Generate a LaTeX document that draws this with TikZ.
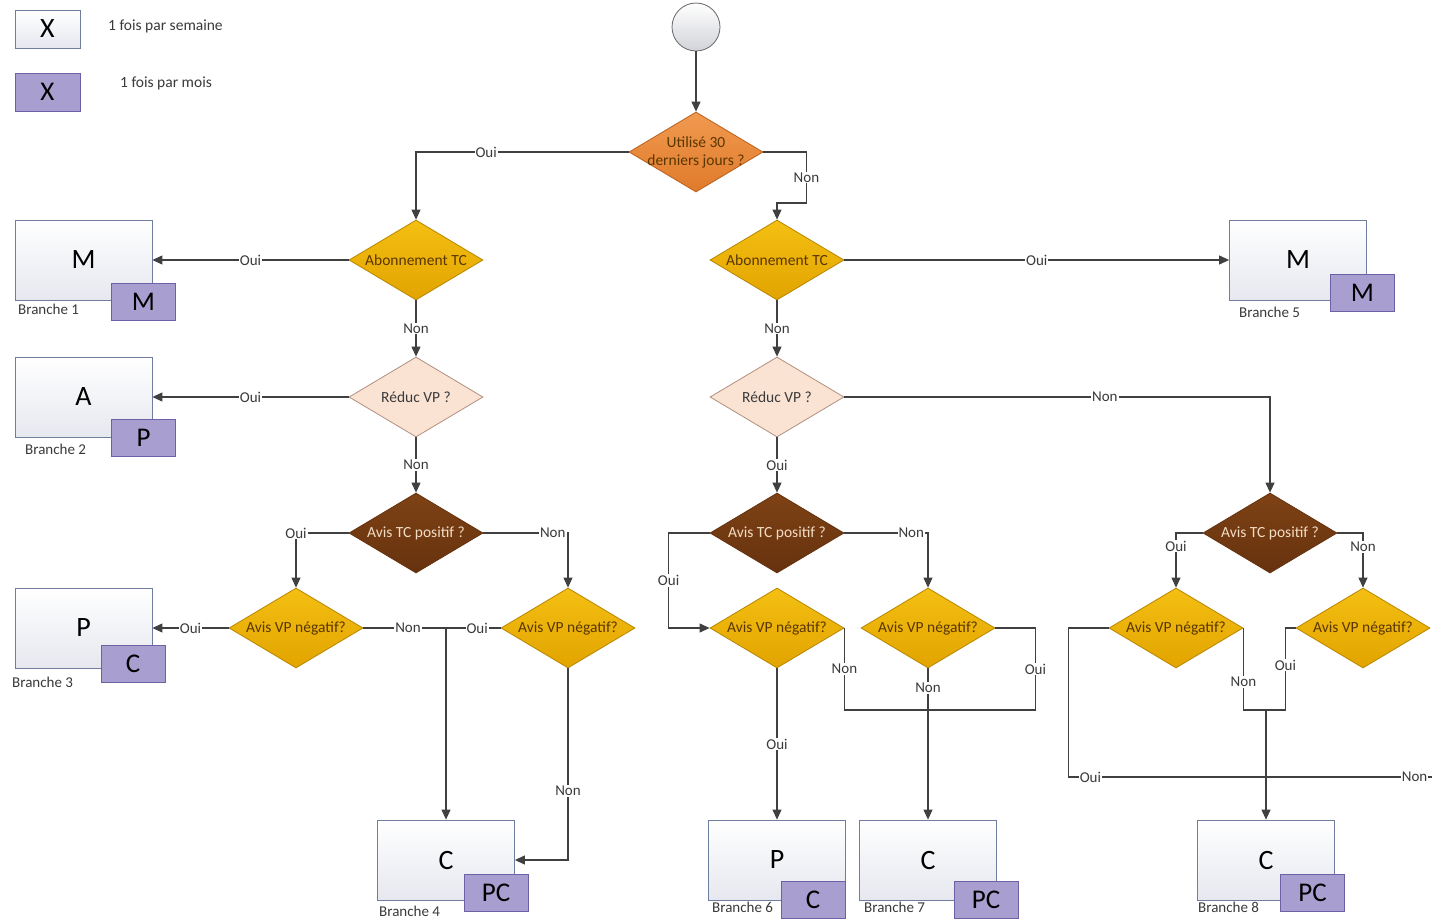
\documentclass[tikz,border=0pt]{standalone}
\usepackage{fontspec}
\setmainfont{Carlito}
\usetikzlibrary{shapes.geometric,arrows.meta}
\definecolor{lc}{HTML}{404040}
\definecolor{goldt}{HTML}{F4BF12}
\definecolor{goldb}{HTML}{E2A400}
\definecolor{goldd}{HTML}{B88600}
\definecolor{goldtx}{HTML}{5A3600}
\definecolor{orat}{HTML}{F09A50}
\definecolor{orab}{HTML}{E07A2A}
\definecolor{orad}{HTML}{B8601E}
\definecolor{peach}{HTML}{FBE3D4}
\definecolor{peachd}{HTML}{B09080}
\definecolor{brt}{HTML}{7E4215}
\definecolor{brb}{HTML}{66320E}
\definecolor{brtx}{HTML}{F3DCC4}
\definecolor{boxb}{HTML}{6F7E9E}
\definecolor{boxf}{HTML}{E6E8EF}
\definecolor{purf}{HTML}{A99ED0}
\definecolor{purb}{HTML}{6D61A6}
\definecolor{txtc}{HTML}{3A3A3A}
\newcommand{\zb}[1]{\makebox[0pt]{#1}}
\tikzset{
  conn/.style={draw=lc, line width=1.1pt},
  arr/.style={conn, -{Triangle[length=10pt,width=9pt]}},
  dia/.style={diamond, aspect=1.675, inner sep=0pt, minimum width=134pt, minimum height=80pt,
    font=\fontsize{15.5}{18}\selectfont, align=center, line width=0.8pt},
  golddia/.style={dia, top color=goldt, bottom color=goldb, draw=goldd, text=goldtx},
  oradia/.style={dia, top color=orat, bottom color=orab, draw=orad, text=goldtx},
  peachdia/.style={dia, fill=peach, draw=peachd, text=txtc},
  browndia/.style={dia, top color=brt, bottom color=brb, draw=brb, text=brtx},
  mainbox/.style={rectangle, minimum width=137pt, minimum height=80pt, draw=boxb, line width=0.8pt,
    top color=white, bottom color=boxf, font=\fontsize{28}{30}\selectfont, inner sep=0pt},
  subbox/.style={rectangle, minimum width=64pt, minimum height=37pt, draw=purb, line width=0.8pt,
    fill=purf, font=\fontsize{27}{29}\selectfont, inner sep=0pt},
  lab/.style={fill=white, inner sep=1pt, font=\fontsize{15}{17}\selectfont, text=txtc},
  brlab/.style={anchor=west, inner sep=0pt, font=\fontsize{15}{17}\selectfont, text=txtc},
}
\begin{document}
\begin{tikzpicture}[x=1pt,y=-1pt]
\useasboundingbox (0,0) rectangle (1432,922);
\fill[white] (0,0) rectangle (1432,922);

% legend
\node[mainbox, minimum width=65pt, minimum height=38pt] (L1) at (47.5,29) {X};
\node[subbox, minimum width=65pt, minimum height=38pt] (L2) at (47.5,92) {X};
\node[brlab, font=\fontsize{15.5}{17}\selectfont] (L1t) at (108,26) {1 fois par semaine};
\node[brlab, font=\fontsize{15.5}{17}\selectfont] (L2t) at (120,83) {1 fois par mois};

% start
\node[circle, minimum size=48pt, draw=lc!80, line width=0.8pt, top color=white, bottom color=boxf!80!gray] (start) at (696,27) {};

% diamonds
\node[oradia] (d0) at (696,152) {\zb{Utilisé 30}\\\zb{derniers jours ?}};
\node[golddia] (d1) at (416,260) {\zb{Abonnement TC}};
\node[golddia] (d2) at (777,260) {\zb{Abonnement TC}};
\node[peachdia] (d3) at (416,397) {\zb{Réduc VP ?}};
\node[peachdia] (d4) at (777,397) {\zb{Réduc VP ?}};
\node[browndia] (d5) at (416,533) {\zb{Avis TC positif ?}};
\node[browndia] (d6) at (777,533) {\zb{Avis TC positif ?}};
\node[browndia] (d7) at (1270,533) {\zb{Avis TC positif ?}};
\node[golddia] (d8) at (296,628) {\zb{Avis VP négatif?}};
\node[golddia] (d9) at (568,628) {\zb{Avis VP négatif?}};
\node[golddia] (d10) at (777,628) {\zb{Avis VP négatif?}};
\node[golddia] (d11) at (928,628) {\zb{Avis VP négatif?}};
\node[golddia] (d12) at (1176,628) {\zb{Avis VP négatif?}};
\node[golddia] (d13) at (1363,628) {\zb{Avis VP négatif?}};

% outcome boxes
\node[mainbox] (b1) at (83.5,260) {M};
\node[subbox] (s1) at (143.5,301.5) {M};
\node[brlab] (r1) at (18,309) {Branche 1};
\node[mainbox] (b2) at (83.5,397) {A};
\node[subbox] (s2) at (143.5,437.5) {P};
\node[brlab] (r2) at (25,449) {Branche 2};
\node[mainbox] (b3) at (83.5,628) {P};
\node[subbox] (s3) at (133,663.5) {C};
\node[brlab] (r3) at (12,682) {Branche 3};
\node[mainbox] (b4) at (446,860) {C};
\node[subbox] (s4) at (496,892.5) {PC};
\node[brlab] (r4) at (379,911) {Branche 4};
\node[mainbox] (b5) at (1298,260) {M};
\node[subbox] (s5) at (1362.5,293) {M};
\node[brlab] (r5) at (1239,312) {Branche 5};
\node[mainbox] (b6) at (777,860) {P};
\node[subbox] (s6) at (813,899.5) {C};
\node[brlab] (r6) at (712,907) {Branche 6};
\node[mainbox] (b7) at (928,860) {C};
\node[subbox] (s7) at (986,899.5) {PC};
\node[brlab] (r7) at (864,907) {Branche 7};
\node[mainbox] (b8) at (1266,860) {C};
\node[subbox] (s8) at (1312.5,892.5) {PC};
\node[brlab] (r8) at (1198,907) {Branche 8};

% connectors
\draw[arr] (start.south) -- (d0.north);
\draw[arr] (d0.west) -| node[lab,pos=0.335]{Oui} (d1.north);
\draw[arr] (d0.east) -- ++(43,0) -- node[lab]{Non} ++(0,51) -| (d2.north);
\draw[arr] (d1.west) -- node[lab]{Oui} (b1.east);
\draw[arr] (d2.east) -- node[lab]{Oui} (b5.west);
\draw[arr] (d1.south) -- node[lab]{Non} (d3.north);
\draw[arr] (d2.south) -- node[lab]{Non} (d4.north);
\draw[arr] (d3.west) -- node[lab]{Oui} (b2.east);
\draw[arr] (d4.east) -| node[lab,pos=0.306]{Non} (d7.north);
\draw[arr] (d3.south) -- node[lab]{Non} (d5.north);
\draw[arr] (d4.south) -- node[lab]{Oui} (d6.north);
\draw[arr] (d5.west) -| node[lab,pos=0.5]{Oui} (d8.north);
\draw[arr] (d5.east) -| node[lab,pos=0.41]{Non} (d9.north);
\draw[arr] (d8.west) -- node[lab]{Oui} (b3.east);
\draw[arr] (d8.east) -| node[lab,pos=0.27]{Non} (b4.north);
\draw[conn] (d9.west) -- node[lab,pos=0.43]{Oui} (d9.west -| b4.north);
\draw[arr] (d9.south) |- node[lab,pos=0.32]{Non} (b4.east);
\draw[arr] (d6.west) -- ++(-41,0) |- node[lab,pos=0.25]{Oui} (d10.west);
\draw[arr] (d6.east) -| node[lab,pos=0.4]{Non} (d11.north);
\draw[arr] (d10.south) -- node[lab]{Oui} (b6.north);
\draw[conn] (d10.east) -- node[lab]{Non} ++(0,82) -- ++(191,0) -- node[lab]{Oui} ++(0,-82) -- (d11.east);
\draw[arr] (d11.south) -- node[lab,pos=0.13]{Non} (b7.north);
\draw[arr] (d7.west) -| node[lab,pos=0.62]{Oui} (d12.north);
\draw[arr] (d7.east) -| node[lab,pos=0.63]{Non} (d13.north);
\coordinate (edgeR) at (1432,777);
\draw[conn] (d12.west) -- ++(-40,0) |- node[lab,pos=0.53]{Oui} node[lab,pos=0.976]{Non} (edgeR);
\coordinate (j8) at (1266,710);
\draw[conn] (d12.east) -- node[lab,pos=0.66]{Non} ++(0,82) -- ++(42,0) -- node[lab,pos=0.55]{Oui} ++(0,-82) -- (d13.west);
\draw[arr] (j8) -- (b8.north);
\end{tikzpicture}
\end{document}
